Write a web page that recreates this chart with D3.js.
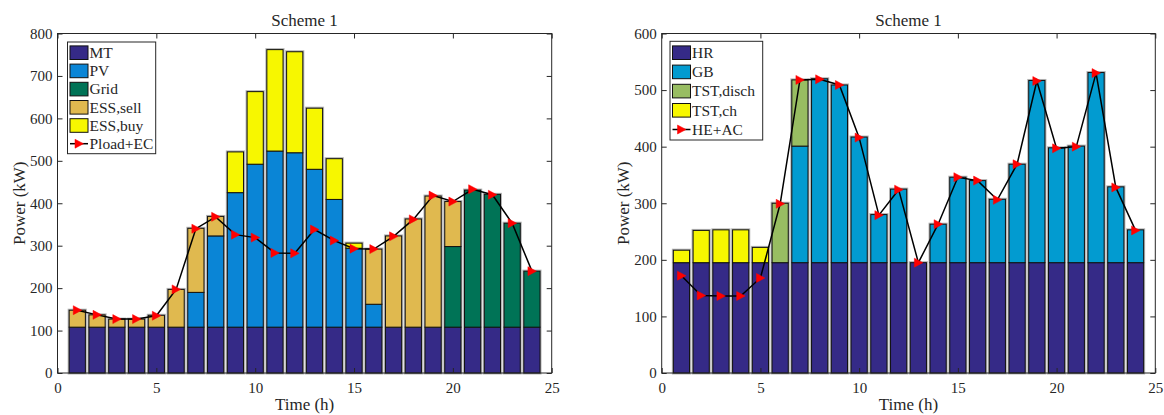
<!DOCTYPE html>
<html>
<head>
<meta charset="utf-8">
<script src="https://cdn.jsdelivr.net/npm/d3@7"></script>
<style>
  body { margin: 0; background: #fff; }
  svg { display: block; }
  text { font-family: "Liberation Serif", "Times New Roman", serif; fill: #262626; }
</style>
</head>
<body>
<svg id="chart" width="1164" height="415"></svg>
<script>
// ── data ────────────────────────────────────────────────────────────────────
const hours = d3.range(1, 25);

// left panel: electric power balance
const mt      = [108,108,108,108,108,108,108,108,108,108,108,108,108,108,108,108,108,108,108,108,108,108,108,108];
const pv      = [0,0,0,0,0,0,82,215,317,384,415,411,372,301,186,54,0,0,0,0,0,0,0,0];
const grid    = [0,0,0,0,0,0,0,0,0,0,0,0,0,0,0,0,0,0,0,190,323,313,245,132];
const essSell = [40,29,19,19,28,89,151,46,0,0,0,0,0,0,0,130,215,255,309,106,0,0,0,0];
const essBuy  = [0,0,0,0,0,0,0,0,96,171,239,238,144,96,12,0,0,0,0,0,0,0,0,0];
const ploadEc = [148,137,127,127,135,197,340,368,326,319,283,282,338,312,293,292,322,362,418,404,433,420,353,240];

// right panel: heat power balance
const hr       = [195,195,195,195,195,195,195,195,195,195,195,195,195,195,195,195,195,195,195,195,195,195,195,195];
const gb       = [0,0,0,0,0,0,206,325,314,222,85,130,0,68,151,145,112,174,322,203,206,336,134,58];
const tstDisch = [0,0,0,0,0,105,117,0,0,0,0,0,0,0,0,0,0,0,0,0,0,0,0,0];
const tstCh    = [22,57,58,58,27,0,0,0,0,0,0,0,0,0,0,0,0,0,0,0,0,0,0,0];
const heAc     = [172,137,136,136,168,299,518,519,509,416,279,324,195,263,346,340,306,369,516,397,400,530,328,252];

const xTicks = [0, 5, 10, 15, 20, 25];
const leftYTicks = [0, 100, 200, 300, 400, 500, 600, 700, 800];
const rightYTicks = [0, 100, 200, 300, 400, 500, 600];

// ── panels ──────────────────────────────────────────────────────────────────
const svg = d3.select('#chart');
svg.append('rect').attr('width', 1164).attr('height', 415).attr('fill', '#fff');

const panels = [
  {
    left: 57.5, right: 551.7, top: 33.5, bottom: 373,
    yMax: 800, yTicks: leftYTicks,
    series: [
      { name: 'MT', values: mt, color: '#352a87' },
      { name: 'PV', values: pv, color: '#0a85d6' },
      { name: 'Grid', values: grid, color: '#007356' },
      { name: 'ESS,sell', values: essSell, color: '#e0b94f' },
      { name: 'ESS,buy', values: essBuy, color: '#f7f700' }
    ],
    line: { name: 'Pload+EC', values: ploadEc },
    legend: { x: 67.5, y: 42, w: 88.2, h: 111.7, first: 10.7, rowH: 18.2 }
  },
  {
    left: 661.7, right: 1155.3, top: 33.5, bottom: 373,
    yMax: 600, yTicks: rightYTicks,
    series: [
      { name: 'HR', values: hr, color: '#352a87' },
      { name: 'GB', values: gb, color: '#029bd0' },
      { name: 'TST,disch', values: tstDisch, color: '#98bd62' },
      { name: 'TST,ch', values: tstCh, color: '#f7f700' }
    ],
    line: { name: 'HE+AC', values: heAc },
    legend: { x: 670, y: 41.3, w: 92.7, h: 98.7, first: 11.4, rowH: 19.2 }
  }
];

const BAR_W = 0.82;
const tri = (cx, cy) => `M${cx - 4},${cy - 4.5}L${cx + 4.5},${cy}L${cx - 4},${cy + 4.5}Z`;

panels.forEach((p) => {
  const x = d3.scaleLinear().domain([0, 25]).range([p.left, p.right]);
  const y = d3.scaleLinear().domain([0, p.yMax]).range([p.bottom, p.top]);
  const g = svg.append('g');

  // ── stacked bars ──────────────────────────────────────────────────────────
  const bw = x(BAR_W) - x(0);
  hours.forEach((h, i) => {
    const total = d3.sum(p.series, (s) => s.values[i]);
    g.append('rect')
      .attr('x', x(h) - bw / 2)
      .attr('y', y(total))
      .attr('width', bw)
      .attr('height', y(0) - y(total))
      .attr('fill', 'none')
      .attr('stroke', '#b4b4b4')
      .attr('stroke-width', 3);
    let base = 0;
    p.series.forEach((s) => {
      const v = s.values[i];
      if (v > 0) {
        g.append('rect')
          .attr('x', x(h) - bw / 2)
          .attr('y', y(base + v))
          .attr('width', bw)
          .attr('height', y(base) - y(base + v))
          .attr('fill', s.color)
          .attr('stroke', '#111')
          .attr('stroke-width', 1);
      }
      base += v;
    });
  });

  // ── line with markers ─────────────────────────────────────────────────────
  const line = d3.line().x((d, i) => x(hours[i])).y((d) => y(d));
  g.append('path')
    .attr('d', line(p.line.values))
    .attr('fill', 'none')
    .attr('stroke', '#000')
    .attr('stroke-width', 1.5);
  p.line.values.forEach((v, i) => {
    g.append('path').attr('d', tri(x(hours[i]), y(v))).attr('fill', '#ff0000').attr('stroke', '#ff0000').attr('stroke-width', 0.5);
  });

  // ── axes (inward ticks, mirrored box) ─────────────────────────────────────
  const styleAxis = (sel) => {
    sel.select('.domain').remove();
    sel.selectAll('line').attr('stroke', '#262626');
    sel.selectAll('text').attr('fill', '#262626').style('font-size', '15px').attr('font-family', null);
  };
  svg.append('g').attr('transform', `translate(0,${p.bottom})`)
    .call(d3.axisBottom(x).tickValues(xTicks).tickSize(-5).tickPadding(9).tickFormat(d3.format('d')))
    .call(styleAxis);
  svg.append('g').attr('transform', `translate(0,${p.top})`)
    .call(d3.axisTop(x).tickValues(xTicks).tickSize(-5).tickFormat(''))
    .call(styleAxis);
  svg.append('g').attr('transform', `translate(${p.left},0)`)
    .call(d3.axisLeft(y).tickValues(p.yTicks).tickSize(-5).tickPadding(5).tickFormat(d3.format('d')))
    .call(styleAxis);
  svg.append('g').attr('transform', `translate(${p.right},0)`)
    .call(d3.axisRight(y).tickValues(p.yTicks).tickSize(-5).tickFormat(''))
    .call(styleAxis);
  svg.append('rect')
    .attr('x', p.left).attr('y', p.top)
    .attr('width', p.right - p.left).attr('height', p.bottom - p.top)
    .attr('fill', 'none').attr('stroke', '#262626').attr('stroke-width', 1);

  // ── titles ────────────────────────────────────────────────────────────────
  const cx = (p.left + p.right) / 2;
  svg.append('text').attr('x', cx).attr('y', 26).attr('text-anchor', 'middle')
    .style('font-size', '17px').text('Scheme 1');
  svg.append('text').attr('x', cx).attr('y', 410).attr('text-anchor', 'middle')
    .style('font-size', '17px').text('Time (h)');
  svg.append('text')
    .attr('transform', `translate(${p.left - 32.5},${(p.top + p.bottom) / 2}) rotate(-90)`)
    .attr('text-anchor', 'middle').style('font-size', '17px').text('Power (kW)');

  // ── legend ────────────────────────────────────────────────────────────────
  const L = p.legend;
  const lg = svg.append('g');
  lg.append('rect').attr('x', L.x).attr('y', L.y).attr('width', L.w).attr('height', L.h)
    .attr('fill', '#fff').attr('stroke', '#262626').attr('stroke-width', 1);
  const entries = p.series.map((s) => ({ name: s.name, color: s.color, kind: 'bar' }))
    .concat([{ name: p.line.name, kind: 'line' }]);
  entries.forEach((e, i) => {
    const cy = L.y + L.first + i * L.rowH;
    const sx = L.x + 2.5;
    if (e.kind === 'bar') {
      lg.append('rect').attr('x', sx).attr('y', cy - 6.8).attr('width', 18).attr('height', 13.6)
        .attr('fill', e.color).attr('stroke', '#111').attr('stroke-width', 1);
    } else {
      lg.append('line').attr('x1', sx).attr('x2', sx + 18).attr('y1', cy).attr('y2', cy)
        .attr('stroke', '#000').attr('stroke-width', 1.5);
      lg.append('path').attr('d', tri(sx + 9, cy)).attr('fill', '#ff0000').attr('stroke', '#ff0000').attr('stroke-width', 0.5);
    }
    lg.append('text').attr('x', sx + 19.5).attr('y', cy).attr('dy', '0.34em')
      .style('font-size', '15.5px').text(e.name);
  });
});
</script>
</body>
</html>
